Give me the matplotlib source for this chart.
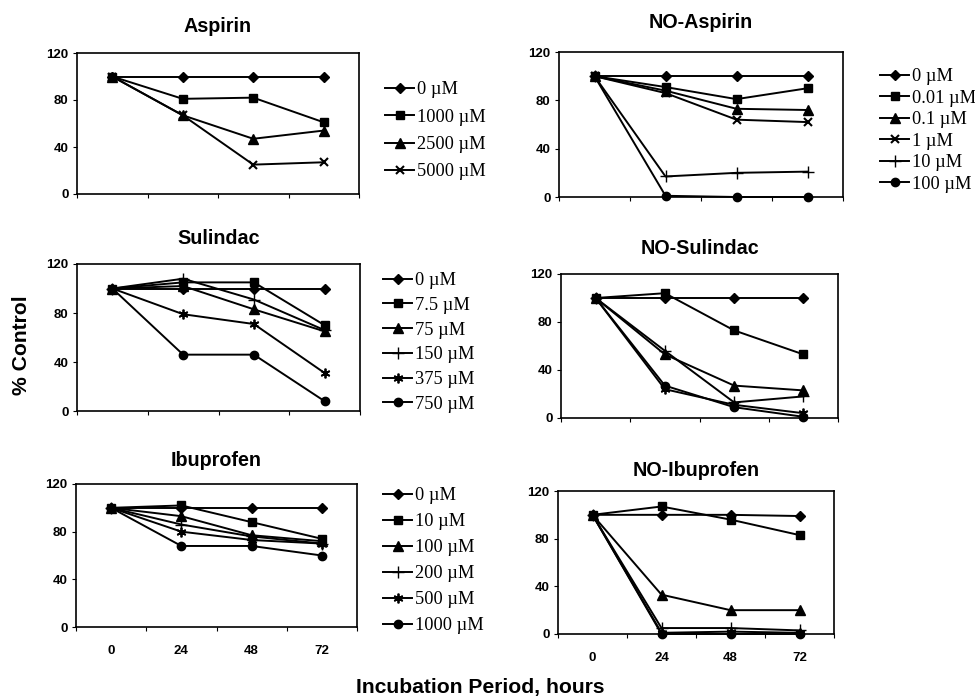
import matplotlib
matplotlib.use("Agg")
import matplotlib.pyplot as plt

W, H = 975, 697
DPI = 100

hours = ["0", "24", "48", "72"]
yticks = [0, 40, 80, 120]

# Aspirin
asp_labels = ["0 µM", "1000 µM", "2500 µM", "5000 µM"]
asp_0 = [100, 100, 100, 100]
asp_1000 = [100, 81, 82, 61]
asp_2500 = [100, 67, 47, 54]
asp_5000 = [100, 67, 25, 27]

# NO-Aspirin
noasp_labels = ["0 µM", "0.01 µM", "0.1 µM", "1 µM", "10 µM", "100 µM"]
noasp_0 = [100, 100, 100, 100]
noasp_001 = [100, 91, 81, 90]
noasp_01 = [100, 88, 73, 72]
noasp_1 = [100, 86, 64, 62]
noasp_10 = [100, 17, 20, 21]
noasp_100 = [100, 1, 0, 0]

# Sulindac
sul_labels = ["0 µM", "7.5 µM", "75 µM", "150 µM", "375 µM", "750 µM"]
sul_0 = [100, 100, 100, 100]
sul_75a = [100, 105, 105, 70]
sul_75 = [100, 102, 83, 65]
sul_150 = [100, 108, 91, 66]
sul_375 = [100, 79, 71, 31]
sul_750 = [100, 46, 46, 8]

# NO-Sulindac
nosul_0 = [100, 100, 100, 100]
nosul_75a = [100, 104, 73, 53]
nosul_75 = [100, 53, 27, 23]
nosul_150 = [100, 56, 13, 18]
nosul_375 = [100, 24, 11, 4]
nosul_750 = [100, 27, 9, 1]

# Ibuprofen
ibu_labels = ["0 µM", "10 µM", "100 µM", "200 µM", "500 µM", "1000 µM"]
ibu_0 = [100, 100, 100, 100]
ibu_10 = [100, 102, 88, 74]
ibu_100 = [100, 93, 77, 72]
ibu_200 = [100, 86, 76, 70]
ibu_500 = [100, 80, 73, 70]
ibu_1000 = [100, 68, 68, 60]

# NO-Ibuprofen
noibu_0 = [100, 100, 100, 99]
noibu_10 = [100, 107, 96, 83]
noibu_100 = [100, 33, 20, 20]
noibu_200 = [100, 5, 5, 3]
noibu_500 = [100, 1, 2, 1]
noibu_1000 = [100, 0, 0, 0]

ASTER = (6, 2, 0)
STY = {
    "D": dict(marker="D", markersize=5),
    "s": dict(marker="s", markersize=6),
    "^": dict(marker="^", markersize=6.5),
    "x": dict(marker="x", markersize=6, markeredgewidth=1.5),
    "+": dict(marker="+", markersize=8, markeredgewidth=1.0),
    "o": dict(marker="o", markersize=6),
    "*": dict(marker=ASTER, markersize=7, markeredgewidth=1.3),
}

fig = plt.figure(figsize=(W / DPI, H / DPI), dpi=DPI)


def add_ax(l, r, t, b):
    return fig.add_axes([l / W, 1 - b / H, (r - l) / W, (b - t) / H])


def fy(y):
    return 1 - y / H


def fx(x):
    return x / W


TICK_FS = 9.5


def draw_panel(box, title, title_y, series, markers, show_x=False):
    l, r, t, b = box
    ax = add_ax(l, r, t, b)
    xs = list(range(len(hours)))
    lines = []
    for s, m in zip(series, markers):
        ln, = ax.plot(xs, s, color="black", lw=1.4, markerfacecolor="black",
                      markeredgecolor="black", clip_on=False, **STY[m])
        lines.append(ln)
    ax.set_xlim(-0.5, 3.5)
    ax.set_ylim(0, 120)
    ax.set_yticks(yticks)
    ax.set_yticklabels([str(v) for v in yticks], fontsize=TICK_FS,
                       fontweight="bold", family="Liberation Sans")
    ax.set_xticks([-0.5, 0.5, 1.5, 2.5, 3.5])
    ax.set_xticklabels([])
    ax.set_xticks(xs, minor=True)
    if show_x:
        ax.set_xticklabels(hours, minor=True, fontsize=TICK_FS,
                           fontweight="bold", family="Liberation Sans")
    ax.tick_params(axis="x", which="minor", length=0, pad=13)
    ax.tick_params(axis="x", which="major", length=3, width=0.8, direction="out")
    ax.tick_params(axis="y", length=3, width=0.8, pad=3)
    for sp in ax.spines.values():
        sp.set_linewidth(1.2)
        sp.set_color("black")
    fig.text(fx((l + r) / 2), fy(title_y), title, ha="center", va="center",
             fontsize=14.2, fontweight="bold", family="Liberation Sans")
    return ax, lines


def add_legend(lines, labels, x, y_first, spacing):
    fs = 13.2
    fs_px = fs * DPI / 72
    ls = spacing / fs_px - 0.89
    leg = fig.legend(lines, labels, loc="upper left",
                     bbox_to_anchor=(fx(x), fy(y_first - fs_px * 0.48)),
                     bbox_transform=fig.transFigure, frameon=False,
                     prop={"family": "Liberation Serif", "size": fs},
                     handlelength=1.6, handletextpad=0.12, borderpad=0,
                     borderaxespad=0, labelspacing=ls, numpoints=1)
    return leg


ax1, l1 = draw_panel((77, 359, 53, 194), "Aspirin", 26,
                     [asp_0, asp_1000, asp_2500, asp_5000], ["D", "s", "^", "x"])
add_legend(l1, asp_labels, 385, 90, 26.7)

ax2, l2 = draw_panel((559, 843, 52, 197), "NO-Aspirin", 22,
                     [noasp_0, noasp_001, noasp_01, noasp_1, noasp_10, noasp_100],
                     ["D", "s", "^", "x", "+", "o"])
add_legend(l2, noasp_labels, 880, 77, 20.8)

ax3, l3 = draw_panel((77, 360, 264, 411), "Sulindac", 238,
                     [sul_0, sul_75a, sul_75, sul_150, sul_375, sul_750],
                     ["D", "s", "^", "+", "*", "o"])
add_legend(l3, sul_labels, 383, 281, 24)

ax4, l4 = draw_panel((561, 838, 274, 418), "NO-Sulindac", 248,
                     [nosul_0, nosul_75a, nosul_75, nosul_150, nosul_375, nosul_750],
                     ["D", "s", "^", "+", "*", "o"])

ax5, l5 = draw_panel((76, 357, 484, 627), "Ibuprofen", 460,
                     [ibu_0, ibu_10, ibu_100, ibu_200, ibu_500, ibu_1000],
                     ["D", "s", "^", "+", "*", "o"], show_x=True)
add_legend(l5, ibu_labels, 383, 496, 25.3)

ax6, l6 = draw_panel((558, 834, 491, 634), "NO-Ibuprofen", 470,
                     [noibu_0, noibu_10, noibu_100, noibu_200, noibu_500, noibu_1000],
                     ["D", "s", "^", "+", "*", "o"], show_x=True)

fig.text(fx(22), fy(345), "% Control", rotation=90, ha="center", va="center",
         fontsize=15.2, fontweight="bold", family="Liberation Sans")
fig.text(fx(480), fy(688), "Incubation Period, hours", ha="center", va="center",
         fontsize=15.2, fontweight="bold", family="Liberation Sans")

fig.savefig("out.png", dpi=DPI, facecolor="white")
